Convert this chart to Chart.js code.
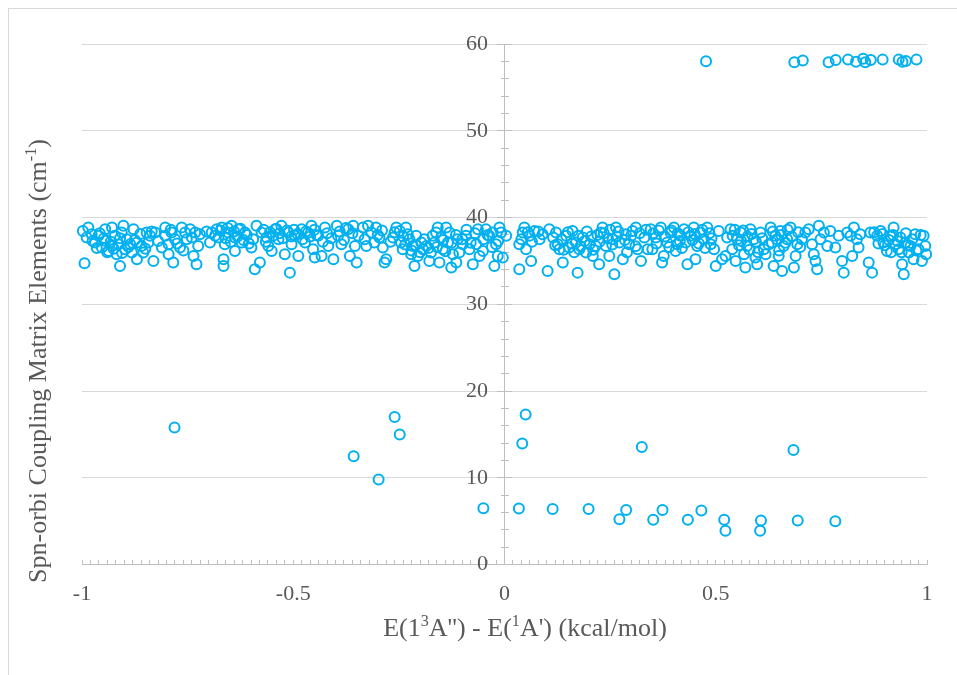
<!DOCTYPE html>
<html>
<head>
<meta charset="utf-8">
<script src="https://cdn.jsdelivr.net/npm/chart.js@4.4.1/dist/chart.umd.min.js"></script>
<style>
  html, body { margin: 0; padding: 0; background: #fff; }
  #wrap { position: relative; width: 957px; height: 675px; overflow: hidden; }
  #frame { position: absolute; left: 8px; top: 8px; width: 980px; height: 700px; border: 1px solid #d9d9d9; }
  #chart { position: absolute; left: 0; top: 0; }
  .axis-title { position: absolute; font-family: "Liberation Serif", serif; color: #595959; font-size: 26px; line-height: 30px; height: 30px; text-align: center; white-space: nowrap; }
  .axis-title sup { font-size: 0.62em; line-height: 0; }
  #xTitle { left: 275px; width: 500px; top: 613px; }
  #yTitle { left: -212px; width: 500px; top: 346px; transform: rotate(-90deg); }
</style>
</head>
<body>
<div id="wrap">
  <div id="frame"></div>
  <canvas id="chart" width="957" height="675"></canvas>
  <div id="xTitle" class="axis-title">E(1<sup>3</sup>A'') - E(<sup>1</sup>A') (kcal/mol)</div>
  <div id="yTitle" class="axis-title">Spn-orbi Coupling Matrix Elements (cm<sup>-1</sup>)</div>
</div>
<script>
// E(1^3A'') - E(1A') in kcal/mol vs spin-orbit coupling (cm-1)

const topCluster = [
  [0.477, 58.0], [0.686, 57.9], [0.706, 58.1], [0.767, 57.9], [0.784, 58.15], [0.813, 58.2],
  [0.832, 57.95], [0.849, 58.3], [0.854, 57.9], [0.867, 58.15], [0.895, 58.2], [0.933, 58.2],
  [0.942, 57.95], [0.950, 58.05], [0.975, 58.2]
];

const lowNeg = [
  [-0.781, 15.8], [-0.260, 17.0], [-0.248, 15.0], [-0.357, 12.5], [-0.298, 9.8], [-0.050, 6.5]
];

const lowPos = [
  [0.050, 17.3], [0.042, 13.95], [0.325, 13.56], [0.684, 13.2], [0.034, 6.47], [0.114, 6.4],
  [0.199, 6.4], [0.272, 5.24], [0.288, 6.3], [0.352, 5.17], [0.374, 6.3], [0.434, 5.17],
  [0.466, 6.24], [0.520, 5.17], [0.523, 3.9], [0.607, 5.09], [0.605, 3.9], [0.694, 5.09], [0.783, 5.0]
];

const bandFarNeg = [
  [-0.998, 38.46], [-0.985, 38.85], [-0.989, 37.69], [-0.977, 38.08], [-0.969, 37.12], [-0.961, 37.89],
  [-0.953, 36.54], [-0.945, 38.66], [-0.945, 37.31], [-0.937, 36.15], [-0.929, 38.85], [-0.929, 36.73],
  [-0.922, 37.89], [-0.918, 35.77], [-0.914, 36.92], [-0.906, 38.27], [-0.902, 39.04], [-0.898, 36.35],
  [-0.894, 37.50], [-0.886, 36.92], [-0.882, 35.96], [-0.878, 38.66], [-0.870, 35.19], [-0.870, 37.12],
  [-0.859, 36.73], [-0.855, 35.96], [-0.847, 38.27], [-0.843, 37.12], [-0.839, 37.89], [-0.831, 35.00],
  [-0.827, 38.27], [-0.811, 36.54], [-0.803, 38.85], [-0.803, 37.89], [-0.795, 36.92], [-0.795, 35.77],
  [-0.788, 38.27], [-0.784, 34.81], [-0.780, 37.50], [-0.768, 36.54], [-0.764, 38.85], [-0.756, 38.27],
  [-0.752, 37.50], [-0.744, 38.66], [-0.736, 35.58], [-0.732, 38.27], [-0.729, 34.61], [-0.725, 36.73],
  [-0.721, 38.08], [-0.697, 37.12], [-0.693, 38.27], [-0.681, 38.66], [-0.677, 37.69], [-0.669, 38.85],
  [-0.665, 35.19], [-0.665, 34.42], [-0.662, 36.92], [-0.654, 38.27], [-0.646, 39.04], [-0.638, 37.69],
  [-0.638, 36.15], [-0.630, 38.66], [-0.622, 37.12], [-0.614, 38.27], [-0.599, 36.54], [-0.595, 37.50],
  [-0.591, 34.04], [-0.587, 39.04], [-0.579, 34.81], [-0.575, 38.27], [-0.563, 37.69], [-0.559, 36.73],
  [-0.551, 36.15], [-0.543, 38.66], [-0.535, 37.50], [-0.528, 39.04], [-0.520, 35.77], [-0.512, 38.27],
  [-0.508, 33.65], [-0.504, 36.92], [-0.496, 37.89], [-0.488, 35.58], [-0.480, 38.66], [-0.472, 37.12],
  [-0.465, 38.27], [-0.457, 39.04], [-0.453, 36.35], [-0.449, 35.38], [-0.441, 37.89], [-0.433, 35.58],
  [-0.425, 38.85], [-0.417, 36.73], [-0.405, 35.19], [-0.397, 39.04], [-0.394, 37.89], [-0.386, 36.92],
  [-0.370, 38.66], [-0.366, 35.58], [-0.358, 39.04], [-0.354, 36.73], [-0.350, 34.81], [-0.346, 37.89],
  [-0.994, 34.73], [-0.910, 34.42],
  [-0.975, 37.3], [-0.965, 36.5], [-0.958, 38.2], [-0.948, 37.6], [-0.940, 36.0], [-0.932, 37.2],
  [-0.925, 36.4], [-0.910, 37.6], [-0.905, 35.9], [-0.890, 36.6], [-0.875, 37.4], [-0.862, 38.1],
  [-0.850, 36.4], [-0.835, 38.4], [-0.820, 37.3], [-0.790, 38.6], [-0.775, 37.0], [-0.760, 36.2],
  [-0.740, 37.7], [-0.705, 38.4], [-0.685, 37.9], [-0.672, 38.5], [-0.660, 37.6], [-0.655, 38.8],
  [-0.648, 37.2], [-0.640, 38.4], [-0.632, 37.8], [-0.625, 38.7], [-0.618, 37.4], [-0.610, 38.0],
  [-0.605, 37.0], [-0.570, 38.6], [-0.565, 37.2], [-0.555, 38.3], [-0.548, 37.9], [-0.540, 38.7],
  [-0.532, 38.2], [-0.525, 37.6], [-0.515, 38.5], [-0.505, 37.8], [-0.498, 38.6], [-0.490, 38.1],
  [-0.478, 37.5], [-0.470, 38.4], [-0.460, 37.8], [-0.450, 38.6], [-0.445, 38.0], [-0.430, 37.2],
  [-0.420, 38.2], [-0.410, 37.6], [-0.390, 38.4], [-0.380, 37.4], [-0.375, 38.8], [-0.360, 38.2]
];

const bandNearNeg = [
  [-0.335, 38.85], [-0.331, 37.50], [-0.327, 36.73], [-0.323, 39.04], [-0.315, 38.27], [-0.308, 37.12],
  [-0.304, 38.85], [-0.296, 37.69], [-0.288, 36.54], [-0.284, 34.81], [-0.280, 35.19], [-0.264, 37.69],
  [-0.256, 38.85], [-0.248, 38.46], [-0.245, 37.12], [-0.241, 36.35], [-0.233, 38.85], [-0.229, 38.08],
  [-0.225, 37.50], [-0.221, 35.77], [-0.217, 36.73], [-0.213, 34.42], [-0.209, 37.89], [-0.205, 35.58],
  [-0.197, 37.12], [-0.193, 36.35], [-0.185, 36.73], [-0.178, 35.00], [-0.174, 35.96], [-0.166, 37.12],
  [-0.162, 38.27], [-0.158, 38.85], [-0.154, 34.81], [-0.150, 37.69], [-0.146, 36.35], [-0.138, 38.85],
  [-0.134, 37.12], [-0.130, 38.27], [-0.126, 34.23], [-0.122, 35.77], [-0.114, 34.81], [-0.111, 37.50],
  [-0.107, 35.96], [-0.099, 36.92], [-0.091, 37.89], [-0.083, 36.35], [-0.075, 34.61], [-0.067, 36.92],
  [-0.063, 38.66], [-0.059, 35.58], [-0.051, 36.15], [-0.044, 38.66], [-0.036, 37.89], [-0.028, 38.27],
  [-0.024, 34.42], [-0.020, 36.92], [-0.016, 35.58], [-0.012, 38.85], [-0.008, 38.27], [-0.004, 35.38],
  [-0.300, 38.0], [-0.290, 38.5], [-0.270, 37.2], [-0.260, 38.3], [-0.240, 37.8], [-0.235, 36.9],
  [-0.220, 36.2], [-0.210, 36.8], [-0.200, 36.0], [-0.190, 37.5], [-0.180, 36.5], [-0.170, 37.9],
  [-0.160, 36.6], [-0.145, 37.4], [-0.140, 36.1], [-0.125, 37.1], [-0.115, 38.0], [-0.100, 37.5],
  [-0.090, 38.6], [-0.080, 37.1], [-0.070, 38.2], [-0.050, 37.5], [-0.040, 38.0], [-0.030, 36.6],
  [-0.015, 37.3]
];

const bandNearPos = [
  [0.004, 37.89], [0.035, 36.92], [0.035, 34.04], [0.043, 38.27], [0.047, 38.85], [0.051, 36.35],
  [0.059, 37.89], [0.063, 35.00], [0.071, 38.46], [0.083, 37.50], [0.090, 38.08], [0.102, 33.84],
  [0.106, 38.66], [0.122, 38.27], [0.126, 36.92], [0.130, 36.35], [0.138, 34.81], [0.146, 37.89],
  [0.153, 36.54], [0.161, 38.46], [0.169, 37.12], [0.173, 33.65], [0.177, 36.35], [0.185, 37.69],
  [0.193, 35.96], [0.201, 36.92], [0.209, 35.58], [0.216, 36.73], [0.224, 34.61], [0.228, 38.27],
  [0.232, 38.85], [0.240, 36.73], [0.248, 35.58], [0.256, 37.50], [0.260, 33.46], [0.264, 38.85],
  [0.272, 37.12], [0.280, 35.19], [0.287, 38.08], [0.295, 36.92], [0.303, 38.46], [0.311, 38.85],
  [0.315, 36.35], [0.323, 35.00], [0.331, 37.69], [0.339, 36.35],
  [0.040, 37.5], [0.055, 38.3], [0.065, 37.2], [0.080, 38.4], [0.115, 37.7], [0.120, 36.8],
  [0.135, 37.5], [0.140, 36.3], [0.150, 38.3], [0.160, 37.0], [0.165, 36.0], [0.175, 37.9],
  [0.180, 36.7], [0.190, 37.3], [0.195, 38.4], [0.205, 37.8], [0.210, 36.3], [0.220, 38.0],
  [0.225, 37.2], [0.235, 38.2], [0.245, 37.6], [0.250, 38.6], [0.255, 36.9], [0.265, 37.8],
  [0.270, 38.4], [0.285, 37.4], [0.290, 36.0], [0.300, 37.9], [0.310, 36.7], [0.320, 38.2],
  [0.335, 38.6]
];

const bandFarPos = [
  [0.346, 38.66], [0.350, 36.35], [0.358, 37.69], [0.370, 38.85], [0.373, 34.81], [0.377, 35.58],
  [0.385, 37.12], [0.393, 38.27], [0.401, 38.85], [0.405, 36.15], [0.409, 36.92], [0.417, 37.89],
  [0.425, 38.66], [0.429, 37.12], [0.433, 34.61], [0.440, 37.89], [0.448, 38.85], [0.452, 35.19],
  [0.456, 36.73], [0.464, 38.27], [0.472, 37.50], [0.480, 38.85], [0.488, 36.92], [0.496, 36.35],
  [0.500, 34.42], [0.507, 38.46], [0.515, 35.19], [0.523, 35.58], [0.527, 37.69], [0.535, 38.66],
  [0.539, 36.35], [0.547, 35.00], [0.551, 37.50], [0.559, 38.27], [0.567, 35.77], [0.570, 34.23],
  [0.574, 36.73], [0.582, 38.66], [0.590, 37.50], [0.594, 35.38], [0.598, 34.61], [0.606, 38.27],
  [0.614, 36.35], [0.618, 35.77], [0.630, 38.85], [0.633, 37.12], [0.637, 34.42], [0.641, 37.89],
  [0.649, 35.58], [0.653, 38.46], [0.657, 33.84], [0.661, 36.73], [0.669, 37.50], [0.677, 38.85],
  [0.685, 34.23], [0.689, 35.58], [0.693, 36.92], [0.704, 37.50], [0.712, 38.27], [0.720, 38.66],
  [0.728, 36.92], [0.732, 35.77], [0.736, 35.00], [0.740, 34.04], [0.744, 39.04], [0.748, 37.50],
  [0.756, 38.27], [0.764, 36.73], [0.771, 38.46], [0.783, 36.54], [0.791, 37.89], [0.799, 35.00],
  [0.803, 33.65], [0.811, 38.27], [0.819, 37.89], [0.823, 35.58], [0.827, 38.85], [0.834, 37.50],
  [0.838, 36.54], [0.842, 38.08], [0.862, 34.81], [0.866, 38.27], [0.870, 33.65], [0.882, 37.89],
  [0.890, 38.46], [0.897, 37.12], [0.905, 36.15], [0.913, 37.89], [0.921, 38.85], [0.925, 36.92],
  [0.933, 36.35], [0.937, 37.69], [0.941, 34.61], [0.945, 33.46], [0.949, 37.12], [0.957, 35.96],
  [0.961, 36.73], [0.968, 35.19], [0.972, 38.08], [0.980, 36.35], [0.988, 35.00], [0.992, 37.89],
  [0.996, 36.73], [0.998, 35.77],
  [0.352, 38.2], [0.360, 37.0], [0.365, 38.5], [0.380, 37.8], [0.390, 36.6], [0.395, 38.5],
  [0.410, 38.2], [0.415, 37.3], [0.420, 36.5], [0.435, 38.3], [0.445, 37.4], [0.450, 38.1],
  [0.460, 37.0], [0.468, 38.6], [0.475, 36.5], [0.485, 38.2], [0.490, 37.6], [0.540, 37.9],
  [0.545, 38.6], [0.555, 36.8], [0.560, 37.3], [0.565, 38.5], [0.575, 37.8], [0.580, 36.3],
  [0.585, 38.1], [0.595, 37.2], [0.600, 36.0], [0.610, 37.6], [0.625, 36.9], [0.635, 38.4],
  [0.645, 37.5], [0.650, 36.2], [0.655, 38.0], [0.665, 37.1], [0.670, 38.6], [0.680, 37.8],
  [0.695, 38.3], [0.700, 36.6], [0.875, 38.3], [0.885, 37.0], [0.895, 38.1], [0.900, 36.8],
  [0.910, 37.4], [0.915, 36.0], [0.920, 38.0], [0.930, 37.3], [0.940, 36.0], [0.950, 38.2],
  [0.955, 36.8], [0.965, 37.5], [0.975, 36.2], [0.985, 38.0]
];

const xTicks = { min: -1, max: 1, step: 0.5, minorStep: 0.02 };
const yTicks = { min: 0, max: 60, step: 10, minorStep: 2 };

const allPoints = [].concat(bandFarNeg, bandNearNeg, bandNearPos, bandFarPos, lowNeg, lowPos, topCluster)
  .map(([x, y]) => ({ x, y }));

const labelFont = { family: "'Liberation Serif', serif", size: 22 };
const textColor = '#595959';
const axisColor = '#bfbfbf';

// hidden helper scale that only draws tick marks
function tickScale(axis, pos, range, step, len) {
  return {
    type: 'linear',
    axis: axis,
    position: pos,
    min: range.min,
    max: range.max,
    ticks: { display: false, stepSize: step },
    grid: { drawOnChartArea: false, tickLength: len, tickColor: axisColor, lineWidth: 1 },
    border: { display: false }
  };
}

const ctx = document.getElementById('chart');
new Chart(ctx, {
  type: 'scatter',
  data: {
    datasets: [{
      data: allPoints,
      pointStyle: 'circle',
      pointRadius: 5,
      pointBorderWidth: 2,
      pointBorderColor: '#00B0F0',
      pointBackgroundColor: 'rgba(255,255,255,0)',
      clip: false
    }]
  },
  options: {
    responsive: false,
    animation: false,
    devicePixelRatio: 1,
    events: [],
    layout: { padding: { left: 82, right: 30, top: 44, bottom: 52 } },
    plugins: { legend: { display: false }, tooltip: { enabled: false } },
    scales: {
      x: {
        type: 'linear',
        position: 'bottom',
        min: xTicks.min,
        max: xTicks.max,
        ticks: {
          stepSize: xTicks.step, font: labelFont, color: textColor, padding: 16,
          callback: (v) => String(Number(v.toFixed(2)))
        },
        grid: { drawOnChartArea: false, drawTicks: false },
        border: { color: axisColor, width: 1 }
      },
      y: {
        type: 'linear',
        position: { x: 0 },
        min: yTicks.min,
        max: yTicks.max,
        ticks: {
          stepSize: yTicks.step, font: labelFont, color: textColor,
          // labels sit against the centred axis, so pad them off it
          callback: (v) => v + '   '
        },
        grid: { color: '#d9d9d9', lineWidth: 1, tickLength: 7, tickColor: axisColor },
        border: { color: axisColor, width: 1 }
      },
      xMinor: tickScale('x', { y: 0 }, xTicks, xTicks.minorStep, -5),
      yMajorR: tickScale('y', { x: 0 }, yTicks, yTicks.step, -7),
      yMinorL: tickScale('y', { x: 0 }, yTicks, yTicks.minorStep, 4),
      yMinorR: tickScale('y', { x: 0 }, yTicks, yTicks.minorStep, -4)
    }
  }
});
</script>
</body>
</html>
